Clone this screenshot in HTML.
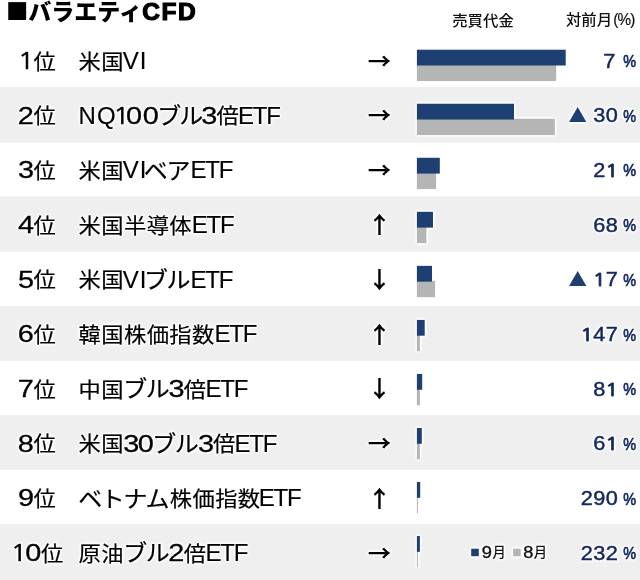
<!DOCTYPE html>
<html lang="ja">
<head>
<meta charset="utf-8">
<title>バラエティCFD</title>
<style>
html,body{margin:0;padding:0;background:#fff;}
body{width:640px;height:580px;position:relative;overflow:hidden;font-family:"Liberation Sans","Noto Sans CJK JP",sans-serif;color:#000;}
.title{position:absolute;left:0;top:0;height:30px;white-space:nowrap;z-index:1;}
.title span{position:absolute;white-space:nowrap;}
.title .sq0{left:6px;top:-8px;font-family:"Noto Sans CJK JP",sans-serif;font-weight:900;font-size:22.4px;line-height:36px;}
.title .jp{left:28.3px;top:-8px;font-family:"Noto Sans CJK JP",sans-serif;font-weight:900;font-size:23px;line-height:36px;}
.title .en{left:142.2px;top:-6.4px;font-family:"Liberation Sans",sans-serif;font-weight:700;font-size:24.5px;line-height:36px;-webkit-text-stroke:1.2px #000;letter-spacing:1.6px;}
svg{position:absolute;left:0;top:0;z-index:0;}
svg text{white-space:pre;}
.h{filter:drop-shadow(0 0 .8px #fff) drop-shadow(0 0 .8px #fff) drop-shadow(0 0 .8px #fff);}
.c{font-family:"Noto Sans CJK JP",sans-serif;}
.l{font-family:"Liberation Sans",sans-serif;}
.d{font-family:"NanumGothic","Liberation Sans",sans-serif;}
</style>
</head>
<body>
<div class="title"><span class="sq0">■</span><span class="jp">バラエティ</span><span class="en">CFD</span></div>
<svg width="640" height="580" viewBox="0 0 640 580">
<g id="bands">
<rect x="0" y="87.0" width="640" height="55.7" fill="#efefef"/>
<rect x="0" y="196.5" width="640" height="55.2" fill="#efefef"/>
<rect x="0" y="305.9" width="640" height="54.9" fill="#efefef"/>
<rect x="0" y="415.2" width="640" height="54.6" fill="#efefef"/>
<rect x="0" y="524.2" width="640" height="55.8" fill="#efefef"/>
</g>
<g id="bars">
<g><rect x="416.9" y="64.70" width="139.3" height="16.3" fill="#b5b5b5"/><rect x="416.9" y="49.70" width="148.8" height="15.8" fill="#1d3f72"/></g>
<g class="h"><rect x="416.9" y="118.74" width="137.9" height="16.3" fill="#b5b5b5"/><rect x="416.9" y="103.74" width="97.1" height="15.8" fill="#1d3f72"/></g>
<g><rect x="416.9" y="172.78" width="19.2" height="16.3" fill="#b5b5b5"/><rect x="416.9" y="157.78" width="22.9" height="15.8" fill="#1d3f72"/></g>
<g class="h"><rect x="416.9" y="226.82" width="9.5" height="16.3" fill="#b5b5b5"/><rect x="416.9" y="211.82" width="16.1" height="15.8" fill="#1d3f72"/></g>
<g><rect x="416.9" y="280.86" width="18.2" height="16.3" fill="#b5b5b5"/><rect x="416.9" y="265.86" width="15.1" height="15.8" fill="#1d3f72"/></g>
<g class="h"><rect x="416.9" y="334.90" width="3.0" height="16.3" fill="#b5b5b5"/><rect x="416.9" y="319.90" width="7.8" height="15.8" fill="#1d3f72"/></g>
<g><rect x="416.9" y="388.94" width="3.0" height="16.3" fill="#b5b5b5"/><rect x="416.9" y="373.94" width="5.3" height="15.8" fill="#1d3f72"/></g>
<g class="h"><rect x="416.9" y="442.98" width="3.0" height="16.3" fill="#b5b5b5"/><rect x="416.9" y="427.98" width="4.9" height="15.8" fill="#1d3f72"/></g>
<g><rect x="416.9" y="497.02" width="1.0" height="16.3" fill="#b5b5b5"/><rect x="416.9" y="482.02" width="3.3" height="15.8" fill="#1d3f72"/></g>
<g class="h"><rect x="416.9" y="551.06" width="1.0" height="16.3" fill="#b5b5b5"/><rect x="416.9" y="536.06" width="3.0" height="15.8" fill="#1d3f72"/></g>
</g>
<g id="legend-marks" class="h"><rect x="471.2" y="548.7" width="7.6" height="7.5" fill="#1d3f72"/><rect x="513.1" y="548.7" width="7.6" height="7.5" fill="#b5b5b5"/></g>
<g id="head"><text class="c" font-size="15.4" font-weight="500" fill="#111" transform="translate(452.21 25.80) scale(1 0.94)">売買代金</text><text class="c" font-size="15.4" font-weight="500" fill="#111" transform="translate(565.90 25.40) scale(1 0.94)">対前月</text><text class="l" font-size="17" fill="#111" letter-spacing="-0.9" stroke="#111" stroke-width="0.2" transform="translate(613.15 25.20) scale(0.9 1)">(%)</text></g>
<g id="row1"><text class="d" font-size="23" stroke="#000" stroke-width="0.5" transform="translate(17.85 68.90) scale(1.2 1)">1</text><text class="c" font-size="22.3" stroke="#000" stroke-width="0.2" transform="translate(33.45 68.70) scale(1 0.94)">位</text><text class="c" font-size="22.3" letter-spacing="0.4" stroke="#000" stroke-width="0.2" transform="translate(78.60 68.70) scale(1 0.94)">米国</text><text class="l" font-size="24" letter-spacing="1.2" stroke="#000" stroke-width="0.15" x="122.65" y="68.90">VI</text><text class="c" font-size="22" font-weight="700" transform="translate(367.71 68.71) scale(1.066 0.97)">→</text><text class="l" font-size="19.38" fill="#14285f" stroke="#14285f" stroke-width="0.45" transform="translate(603.35 67.50) scale(1.12 1)">7</text><text class="l" font-size="16.8" fill="#14285f" stroke="#14285f" stroke-width="0.7" transform="translate(623.19 67.10) scale(0.86 1)">%</text></g>
<g id="row2" class="h"><text class="l" font-size="24.7" stroke="#000" stroke-width="0.3" transform="translate(17.87 123.58) scale(1.17 1)">2</text><text class="c" font-size="22.3" stroke="#000" stroke-width="0.2" transform="translate(33.45 123.38) scale(1 0.94)">位</text><text class="l" font-size="24" letter-spacing="1.3" stroke="#000" stroke-width="0.15" x="78.43" y="123.58">NQ</text><text class="d" font-size="23" stroke="#000" stroke-width="0.5" transform="translate(112.98 123.58) scale(1.2 1)">1</text><text class="l" font-size="24.7" stroke="#000" stroke-width="0.3" transform="translate(126.07 123.58) scale(1.17 1)">0</text><text class="l" font-size="24.7" stroke="#000" stroke-width="0.3" transform="translate(142.77 123.58) scale(1.17 1)">0</text><text class="c" font-size="24" letter-spacing="-1.3" stroke="#000" stroke-width="0.2" transform="translate(157.28 124.03) scale(1 0.94)">ブ</text><text class="c" font-size="24" letter-spacing="-1.3" stroke="#000" stroke-width="0.2" transform="translate(179.22 124.03) scale(1 0.94)">ル</text><text class="l" font-size="24.7" stroke="#000" stroke-width="0.3" transform="translate(201.20 123.58) scale(1.17 1)">3</text><text class="c" font-size="22.3" letter-spacing="0.4" stroke="#000" stroke-width="0.2" transform="translate(216.54 123.38) scale(1 0.94)">倍</text><text class="l" font-size="24" letter-spacing="-1.2" stroke="#000" stroke-width="0.15" x="238.03" y="123.58">ETF</text><text class="c" font-size="22" font-weight="700" transform="translate(367.71 123.39) scale(1.066 0.97)">→</text><text class="c" font-size="20" fill="#1d3f72" transform="translate(568.45 122.30) scale(0.92 0.921)">▲</text><text class="l" font-size="19.38" fill="#14285f" stroke="#14285f" stroke-width="0.45" transform="translate(593.27 122.18) scale(1.12 1)">3</text><text class="l" font-size="19.38" fill="#14285f" stroke="#14285f" stroke-width="0.45" transform="translate(605.75 122.18) scale(1.12 1)">0</text><text class="l" font-size="16.8" fill="#14285f" stroke="#14285f" stroke-width="0.7" transform="translate(623.19 121.78) scale(0.86 1)">%</text></g>
<g id="row3"><text class="l" font-size="24.7" stroke="#000" stroke-width="0.3" transform="translate(17.94 178.26) scale(1.17 1)">3</text><text class="c" font-size="22.3" stroke="#000" stroke-width="0.2" transform="translate(33.45 178.06) scale(1 0.94)">位</text><text class="c" font-size="22.3" letter-spacing="0.4" stroke="#000" stroke-width="0.2" transform="translate(78.60 178.06) scale(1 0.94)">米国</text><text class="l" font-size="24" letter-spacing="1.2" stroke="#000" stroke-width="0.15" x="122.65" y="178.26">VI</text><text class="c" font-size="24" letter-spacing="-1.3" stroke="#000" stroke-width="0.2" transform="translate(143.73 178.71) scale(1 0.94)">ベア</text><text class="l" font-size="24" letter-spacing="-1.2" stroke="#000" stroke-width="0.15" x="190.53" y="178.26">ETF</text><text class="c" font-size="22" font-weight="700" transform="translate(367.71 178.07) scale(1.066 0.97)">→</text><text class="l" font-size="19.38" fill="#14285f" stroke="#14285f" stroke-width="0.45" transform="translate(593.22 176.86) scale(1.12 1)">2</text><text class="d" font-size="18.04" fill="#14285f" stroke="#14285f" stroke-width="0.95" transform="translate(605.37 176.86) scale(1.2 1)">1</text><text class="l" font-size="16.8" fill="#14285f" stroke="#14285f" stroke-width="0.7" transform="translate(623.19 176.46) scale(0.86 1)">%</text></g>
<g id="row4" class="h"><text class="l" font-size="24.7" stroke="#000" stroke-width="0.3" transform="translate(17.97 232.94) scale(1.17 1)">4</text><text class="c" font-size="22.3" stroke="#000" stroke-width="0.2" transform="translate(33.45 232.74) scale(1 0.94)">位</text><text class="c" font-size="22.3" letter-spacing="0.4" stroke="#000" stroke-width="0.2" transform="translate(78.60 232.74) scale(1 0.94)">米国半導体</text><text class="l" font-size="24" letter-spacing="-1.2" stroke="#000" stroke-width="0.15" x="191.73" y="232.94">ETF</text><text class="c" font-size="22" font-weight="700" transform="translate(367.53 233.45) scale(1.089 1.047)">↑</text><text class="l" font-size="19.38" fill="#14285f" stroke="#14285f" stroke-width="0.45" transform="translate(593.14 231.54) scale(1.12 1)">6</text><text class="l" font-size="19.38" fill="#14285f" stroke="#14285f" stroke-width="0.45" transform="translate(605.77 231.54) scale(1.12 1)">8</text><text class="l" font-size="16.8" fill="#14285f" stroke="#14285f" stroke-width="0.7" transform="translate(623.19 231.14) scale(0.86 1)">%</text></g>
<g id="row5"><text class="l" font-size="24.7" stroke="#000" stroke-width="0.3" transform="translate(17.88 287.62) scale(1.17 1)">5</text><text class="c" font-size="22.3" stroke="#000" stroke-width="0.2" transform="translate(33.45 287.42) scale(1 0.94)">位</text><text class="c" font-size="22.3" letter-spacing="0.4" stroke="#000" stroke-width="0.2" transform="translate(78.60 287.42) scale(1 0.94)">米国</text><text class="l" font-size="24" letter-spacing="1.2" stroke="#000" stroke-width="0.15" x="122.65" y="287.62">VI</text><text class="c" font-size="24" letter-spacing="-1.3" stroke="#000" stroke-width="0.2" transform="translate(143.88 288.07) scale(1 0.94)">ブル</text><text class="l" font-size="24" letter-spacing="-1.2" stroke="#000" stroke-width="0.15" x="190.53" y="287.62">ETF</text><text class="c" font-size="22" font-weight="700" transform="translate(367.53 288.01) scale(1.089 1.047)">↓</text><text class="c" font-size="20" fill="#1d3f72" transform="translate(568.45 286.34) scale(0.92 0.921)">▲</text><text class="d" font-size="18.04" fill="#14285f" stroke="#14285f" stroke-width="0.95" transform="translate(592.82 286.22) scale(1.2 1)">1</text><text class="l" font-size="19.38" fill="#14285f" stroke="#14285f" stroke-width="0.45" transform="translate(605.75 286.22) scale(1.12 1)">7</text><text class="l" font-size="16.8" fill="#14285f" stroke="#14285f" stroke-width="0.7" transform="translate(623.19 285.82) scale(0.86 1)">%</text></g>
<g id="row6" class="h"><text class="l" font-size="24.7" stroke="#000" stroke-width="0.3" transform="translate(17.76 342.30) scale(1.17 1)">6</text><text class="c" font-size="22.3" stroke="#000" stroke-width="0.2" transform="translate(33.45 342.10) scale(1 0.94)">位</text><text class="c" font-size="22.3" letter-spacing="0.4" stroke="#000" stroke-width="0.2" transform="translate(78.60 342.10) scale(1 0.94)">韓国株価指数</text><text class="l" font-size="24" letter-spacing="-1.2" stroke="#000" stroke-width="0.15" x="214.43" y="342.30">ETF</text><text class="c" font-size="22" font-weight="700" transform="translate(367.53 342.81) scale(1.089 1.047)">↑</text><text class="d" font-size="18.04" fill="#14285f" stroke="#14285f" stroke-width="0.95" transform="translate(580.27 340.90) scale(1.2 1)">1</text><text class="l" font-size="19.38" fill="#14285f" stroke="#14285f" stroke-width="0.45" transform="translate(593.29 340.90) scale(1.12 1)">4</text><text class="l" font-size="19.38" fill="#14285f" stroke="#14285f" stroke-width="0.45" transform="translate(605.75 340.90) scale(1.12 1)">7</text><text class="l" font-size="16.8" fill="#14285f" stroke="#14285f" stroke-width="0.7" transform="translate(623.19 340.50) scale(0.86 1)">%</text></g>
<g id="row7"><text class="l" font-size="24.7" stroke="#000" stroke-width="0.3" transform="translate(17.85 396.98) scale(1.17 1)">7</text><text class="c" font-size="22.3" stroke="#000" stroke-width="0.2" transform="translate(33.45 396.78) scale(1 0.94)">位</text><text class="c" font-size="22.3" letter-spacing="0.4" stroke="#000" stroke-width="0.2" transform="translate(78.60 396.78) scale(1 0.94)">中国</text><text class="c" font-size="24" letter-spacing="-1.3" stroke="#000" stroke-width="0.2" transform="translate(123.15 397.43) scale(1 0.94)">ブル</text><text class="l" font-size="24.7" stroke="#000" stroke-width="0.3" transform="translate(168.60 396.98) scale(1.17 1)">3</text><text class="c" font-size="22.3" letter-spacing="0.4" stroke="#000" stroke-width="0.2" transform="translate(183.84 396.78) scale(1 0.94)">倍</text><text class="l" font-size="24" letter-spacing="-1.2" stroke="#000" stroke-width="0.15" x="205.53" y="396.98">ETF</text><text class="c" font-size="22" font-weight="700" transform="translate(367.53 397.37) scale(1.089 1.047)">↓</text><text class="l" font-size="19.38" fill="#14285f" stroke="#14285f" stroke-width="0.45" transform="translate(593.22 395.58) scale(1.12 1)">8</text><text class="d" font-size="18.04" fill="#14285f" stroke="#14285f" stroke-width="0.95" transform="translate(605.37 395.58) scale(1.2 1)">1</text><text class="l" font-size="16.8" fill="#14285f" stroke="#14285f" stroke-width="0.7" transform="translate(623.19 395.18) scale(0.86 1)">%</text></g>
<g id="row8" class="h"><text class="l" font-size="24.7" stroke="#000" stroke-width="0.3" transform="translate(17.87 451.66) scale(1.17 1)">8</text><text class="c" font-size="22.3" stroke="#000" stroke-width="0.2" transform="translate(33.45 451.46) scale(1 0.94)">位</text><text class="c" font-size="22.3" letter-spacing="0.4" stroke="#000" stroke-width="0.2" transform="translate(78.60 451.46) scale(1 0.94)">米国</text><text class="l" font-size="24.7" stroke="#000" stroke-width="0.3" transform="translate(123.30 451.66) scale(1.17 1)">3</text><text class="l" font-size="24.7" stroke="#000" stroke-width="0.3" transform="translate(137.77 451.66) scale(1.17 1)">0</text><text class="c" font-size="24" letter-spacing="-1.3" stroke="#000" stroke-width="0.2" transform="translate(152.18 452.11) scale(1 0.94)">ブル</text><text class="l" font-size="24.7" stroke="#000" stroke-width="0.3" transform="translate(198.00 451.66) scale(1.17 1)">3</text><text class="c" font-size="22.3" letter-spacing="0.4" stroke="#000" stroke-width="0.2" transform="translate(213.04 451.46) scale(1 0.94)">倍</text><text class="l" font-size="24" letter-spacing="-1.2" stroke="#000" stroke-width="0.15" x="234.43" y="451.66">ETF</text><text class="c" font-size="22" font-weight="700" transform="translate(367.71 451.47) scale(1.066 0.97)">→</text><text class="l" font-size="19.38" fill="#14285f" stroke="#14285f" stroke-width="0.45" transform="translate(593.14 450.26) scale(1.12 1)">6</text><text class="d" font-size="18.04" fill="#14285f" stroke="#14285f" stroke-width="0.95" transform="translate(605.37 450.26) scale(1.2 1)">1</text><text class="l" font-size="16.8" fill="#14285f" stroke="#14285f" stroke-width="0.7" transform="translate(623.19 449.86) scale(0.86 1)">%</text></g>
<g id="row9"><text class="l" font-size="24.7" stroke="#000" stroke-width="0.3" transform="translate(17.88 506.34) scale(1.17 1)">9</text><text class="c" font-size="22.3" stroke="#000" stroke-width="0.2" transform="translate(33.45 506.14) scale(1 0.94)">位</text><text class="c" font-size="24" letter-spacing="-1.3" stroke="#000" stroke-width="0.2" transform="translate(78.15 506.79) scale(1 0.94)">ベトナム</text><text class="c" font-size="22.3" letter-spacing="0.4" stroke="#000" stroke-width="0.2" transform="translate(169.80 506.14) scale(1 0.94)">株価指数</text><text class="l" font-size="24" letter-spacing="-1.2" stroke="#000" stroke-width="0.15" x="258.63" y="506.34">ETF</text><text class="c" font-size="22" font-weight="700" transform="translate(367.53 506.85) scale(1.089 1.047)">↑</text><text class="l" font-size="19.38" fill="#14285f" stroke="#14285f" stroke-width="0.45" transform="translate(580.67 504.94) scale(1.12 1)">2</text><text class="l" font-size="19.38" fill="#14285f" stroke="#14285f" stroke-width="0.45" transform="translate(593.23 504.94) scale(1.12 1)">9</text><text class="l" font-size="19.38" fill="#14285f" stroke="#14285f" stroke-width="0.45" transform="translate(605.75 504.94) scale(1.12 1)">0</text><text class="l" font-size="16.8" fill="#14285f" stroke="#14285f" stroke-width="0.7" transform="translate(623.19 504.54) scale(0.86 1)">%</text></g>
<g id="row10" class="h"><text class="d" font-size="23" stroke="#000" stroke-width="0.5" transform="translate(10.48 561.02) scale(1.2 1)">1</text><text class="l" font-size="24.7" stroke="#000" stroke-width="0.3" transform="translate(25.27 561.02) scale(1.17 1)">0</text><text class="c" font-size="22.3" stroke="#000" stroke-width="0.2" transform="translate(41.05 560.82) scale(1 0.94)">位</text><text class="c" font-size="22.3" letter-spacing="0.4" stroke="#000" stroke-width="0.2" transform="translate(78.60 560.82) scale(1 0.94)">原油</text><text class="c" font-size="24" letter-spacing="-1.3" stroke="#000" stroke-width="0.2" transform="translate(123.15 561.47) scale(1 0.94)">ブル</text><text class="l" font-size="24.7" stroke="#000" stroke-width="0.3" transform="translate(168.26 561.02) scale(1.17 1)">2</text><text class="c" font-size="22.3" letter-spacing="0.4" stroke="#000" stroke-width="0.2" transform="translate(183.84 560.82) scale(1 0.94)">倍</text><text class="l" font-size="24" letter-spacing="-1.2" stroke="#000" stroke-width="0.15" x="205.53" y="561.02">ETF</text><text class="c" font-size="22" font-weight="700" transform="translate(367.71 560.83) scale(1.066 0.97)">→</text><text class="l" font-size="19.38" fill="#14285f" stroke="#14285f" stroke-width="0.45" transform="translate(580.67 559.62) scale(1.12 1)">2</text><text class="l" font-size="19.38" fill="#14285f" stroke="#14285f" stroke-width="0.45" transform="translate(593.27 559.62) scale(1.12 1)">3</text><text class="l" font-size="19.38" fill="#14285f" stroke="#14285f" stroke-width="0.45" transform="translate(605.77 559.62) scale(1.12 1)">2</text><text class="l" font-size="16.8" fill="#14285f" stroke="#14285f" stroke-width="0.7" transform="translate(623.19 559.22) scale(0.86 1)">%</text></g>
<g id="legend" class="h"><text class="l" font-size="15.6" fill="#111" stroke="#111" stroke-width="0.35" transform="translate(481.86 557.50) scale(1.17 1)">9</text><text class="c" font-size="13.3" font-weight="500" fill="#111" x="492.45" y="557.10">月</text><text class="l" font-size="15.6" fill="#111" stroke="#111" stroke-width="0.35" transform="translate(523.22 557.50) scale(1.17 1)">8</text><text class="c" font-size="13.3" font-weight="500" fill="#111" x="533.85" y="557.10">月</text></g>
</svg>
</body>
</html>
